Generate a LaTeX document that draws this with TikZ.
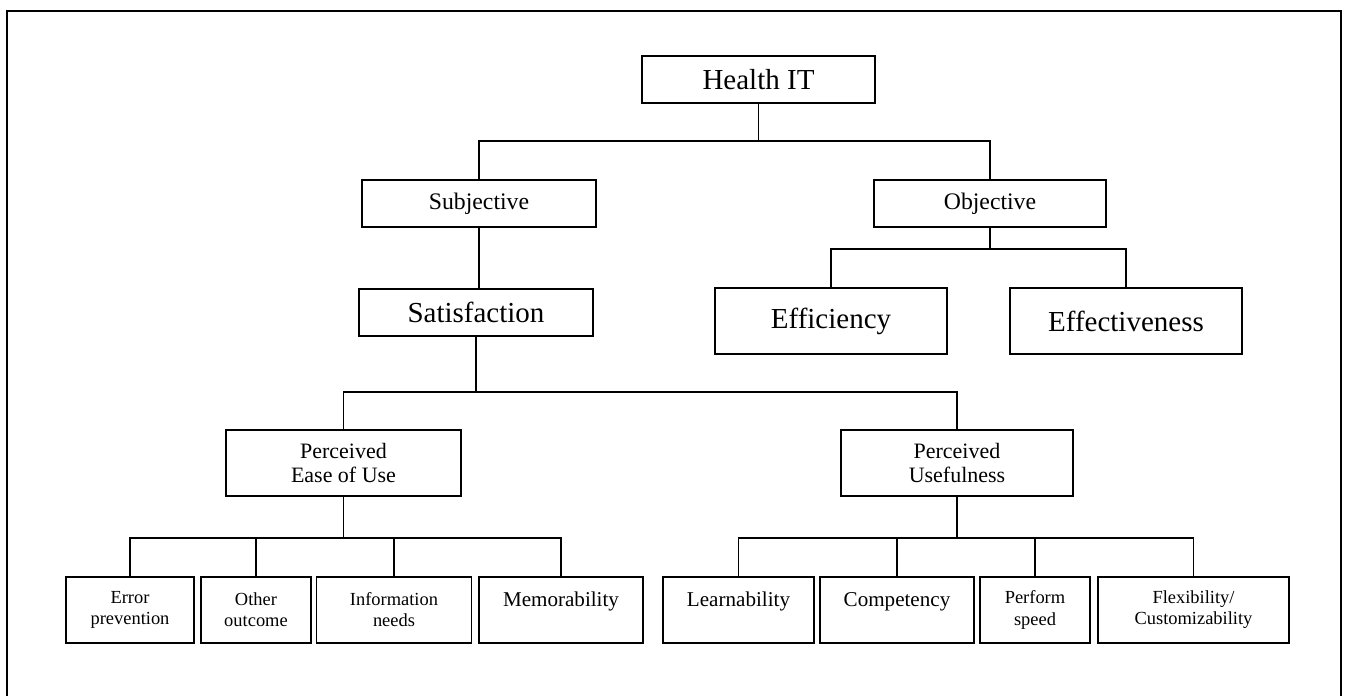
\documentclass[tikz,border=0pt]{standalone}
\usepackage{fontspec}
\setmainfont{Liberation Serif}

\begin{document}
\begin{tikzpicture}[
    x=0.02cm, y=-0.02cm,
    line width=0.9pt,
    box/.style={draw, line width=0.9pt, align=center, inner sep=0pt, minimum height=0.94cm},
    bigtxt/.style={box, font=\fontsize{16.5}{19}\selectfont},
    midtxt/.style={box, font=\fontsize{13.5}{15}\selectfont},
    twoline/.style={box, minimum height=1.32cm, font=\fontsize{12.5}{13.3}\selectfont},
    leaf/.style={box, minimum height=1.32cm, font=\fontsize{10.5}{12}\selectfont},
    leafbig/.style={leaf, font=\fontsize{12}{12}\selectfont}
]
    \useasboundingbox (0,0) rectangle (1357,696);

    % outer frame
    \draw (7,696) |- (1341,11) -- (1341,696);

    \node[bigtxt, minimum width=4.66cm] (health) at (758.5, 79.5) {Health IT};

    \node[midtxt, minimum width=4.68cm] (subj) at (479, 203.5) {Subjective};
    \node[midtxt, minimum width=4.64cm] (obj) at (990, 203.5) {Objective};

    \node[bigtxt, minimum width=4.68cm] (satis) at (476, 312.5) {Satisfaction};
    \node[bigtxt, minimum width=4.64cm, minimum height=1.32cm] (effic) at (831, 321) {Efficiency};
    \node[bigtxt, minimum width=4.64cm, minimum height=1.32cm] (effect) at (1126, 321) {Effectiveness};

    \node[twoline, minimum width=4.7cm] (peou) at (343.5, 463) {Perceived\\Ease of Use};
    \node[twoline, minimum width=4.64cm] (pu) at (957, 463) {Perceived\\Usefulness};

    \node[leaf, minimum width=2.56cm] (err) at (130, 610) {Error\\prevention};
    \node[leaf, minimum width=2.2cm] (oth) at (256, 610) {Other\\outcome};
    \node[leaf, minimum width=3.1cm] (info) at (394, 610) {Information\\needs};
    \node[leafbig, minimum width=3.28cm] (memo) at (561, 610) {Memorability\\~};
    \node[leafbig, minimum width=3.02cm] (learn) at (738.5, 610) {Learnability\\~};
    \node[leafbig, minimum width=3.08cm] (comp) at (897, 610) {Competency\\~};
    \node[leaf, minimum width=2.2cm] (perf) at (1035, 610) {Perform\\speed};
    \node[leaf, minimum width=3.82cm] (flex) at (1193.5, 610) {Flexibility/\\Customizability};

    % connectors
    \draw (health.south) -- ++(0,37) coordinate (b0);
    \draw (subj.north) |- (b0) -| (obj.north);
    \draw (subj.south) -- (subj.south |- satis.north);

    \draw (obj.south) -- ++(0,21) coordinate (b1);
    \draw (effic.north) |- (b1) -| (effect.north);

    \draw (satis.south) -- ++(0,55) coordinate (b2);
    \draw (peou.north) |- (b2) -| (pu.north);

    \draw (peou.south) -- ++(0,41) coordinate (b3);
    \draw (err.north) |- (b3) -| (memo.north);
    \draw (oth.north) -- (oth.north |- b3);
    \draw (info.north) -- (info.north |- b3);

    \draw (pu.south) -- ++(0,41) coordinate (b4);
    \draw (learn.north) |- (b4) -| (flex.north);
    \draw (comp.north) -- (comp.north |- b4);
    \draw (perf.north) -- (perf.north |- b4);
\end{tikzpicture}
\end{document}
